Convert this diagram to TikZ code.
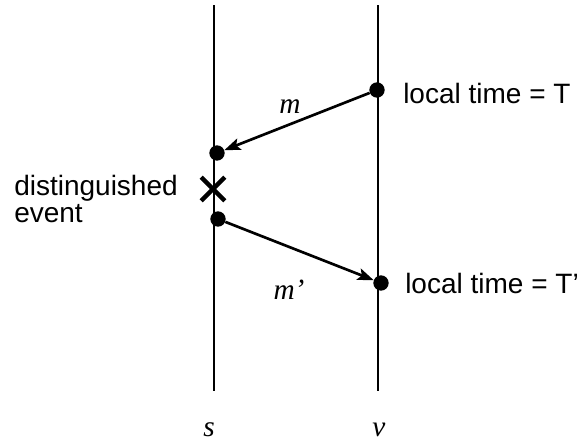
\documentclass[tikz,border=0pt]{standalone}
\usepackage{fontspec}
\setmainfont{Liberation Serif}
\newfontfamily\labelfont{Liberation Sans}
\usetikzlibrary{arrows.meta,shapes.misc}
\tikzset{
  dot/.style={circle,fill,inner sep=0pt,minimum size=11.5pt},
  msg/.style={-{Stealth[length=12pt,width=9pt,inset=2.5pt]},line width=2pt},
  timeline/.style={line width=1.6pt},
  evt/.style={draw,cross out,line width=3.2pt,inner sep=0pt,minimum size=14.5pt},
  txt/.style={font=\labelfont\fontsize{21}{20}\selectfont,inner sep=0pt},
  var/.style={font=\itshape\fontsize{22}{24}\selectfont,inner sep=0pt}
}
\begin{document}
\begin{tikzpicture}[x=0.75pt,y=-0.75pt]
\useasboundingbox (0,0) rectangle (587,444);
% process lines
\coordinate (s top) at (214,5);
\coordinate (s bot) at (214,391);
\coordinate (v top) at (378,5);
\coordinate (v bot) at (378,391);
\draw[timeline] (s top) -- (s bot);
\draw[timeline] (v top) -- (v bot);
% events
\node[dot] (send) at (377,90) {};
\node[dot] (recv) at (217,153) {};
\node[evt] (mark) at (213,189) {};
\node[dot] (reply) at (218,219) {};
\node[dot] (back) at (381,283) {};
% messages
\draw[msg] (send) -- (recv);
\draw[msg] (reply) -- (back);
\node[var] (m lbl) at (290,107) {m};
\node[var] (m2 lbl) at (289,290) {m’};
% labels
\node[txt,anchor=base west] (time T) at (403,103) {local time = T};
\node[txt,anchor=base west] (time T2) at (405,293) {local time = T’};
\node[txt,anchor=north west,align=left] (dist) at (14,175) {distinguished\\event};
\node[var,anchor=base] (s lbl) at (209,436) {s};
\node[var,anchor=base] (v lbl) at (379,436) {v};
\end{tikzpicture}
\end{document}
